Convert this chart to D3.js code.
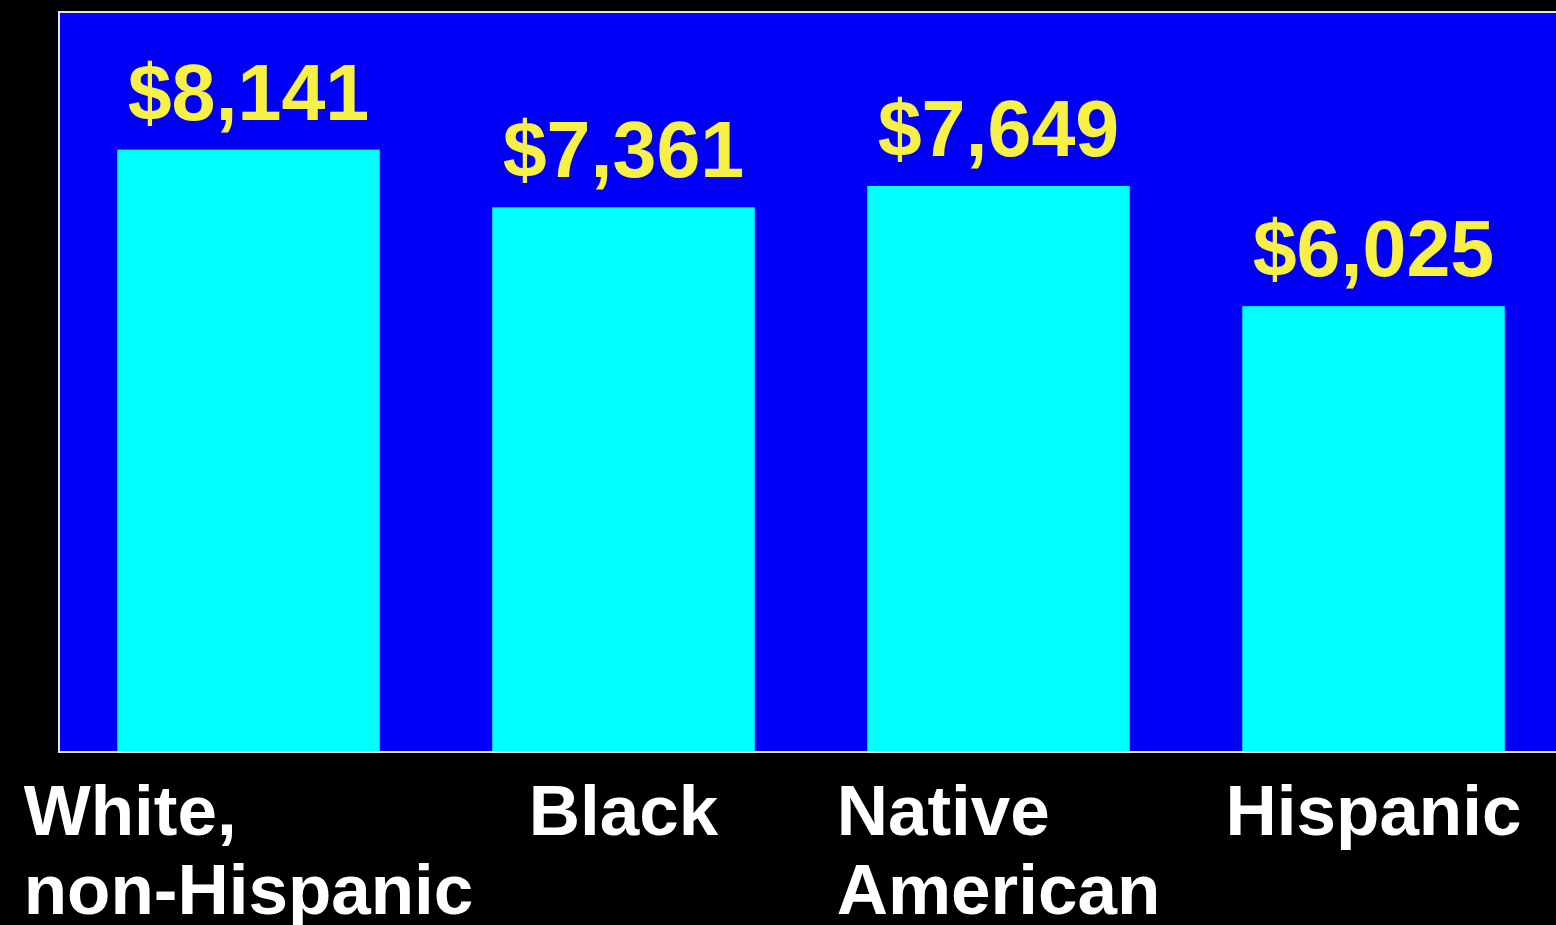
<!DOCTYPE html>
<html>
<head>
<meta charset="utf-8">
<script src="https://cdn.jsdelivr.net/npm/d3@7"></script>
<style>
  html, body { margin: 0; padding: 0; background: #000; }
  svg { display: block; }
  text { font-family: "Liberation Sans", Arial, Helvetica, sans-serif; font-weight: bold; }
</style>
</head>
<body>
<svg id="chart" width="1556" height="925"></svg>
<script>
// Spending per person by group
const categories = ["White, non-Hispanic", "Black", "Native American", "Hispanic"];
const categoryLines = [["White,", "non-Hispanic"], ["Black"], ["Native", "American"], ["Hispanic"]];
const values = [8141, 7361, 7649, 6025];
const valueLabels = ["$8,141", "$7,361", "$7,649", "$6,025"];

const W = 1556, H = 925;
const plot = { left: 59, top: 12, right: 1561, bottom: 752 };

const svg = d3.select("#chart");
svg.append("rect").attr("width", W).attr("height", H).attr("fill", "#000");

const x = d3.scaleBand()
  .domain(categories)
  .range([61, 1561])
  .paddingInner(0.3)
  .paddingOuter(0.15);

const y = d3.scaleLinear()
  .domain([0, 10000])
  .range([plot.bottom, plot.top]);

// plot area
svg.append("rect")
  .attr("x", plot.left)
  .attr("y", plot.top)
  .attr("width", plot.right - plot.left)
  .attr("height", plot.bottom - plot.top)
  .attr("fill", "#0000f8");

// bars
svg.append("g").selectAll("rect")
  .data(categories)
  .join("rect")
  .attr("x", d => x(d))
  .attr("y", (d, i) => y(values[i]))
  .attr("width", x.bandwidth())
  .attr("height", (d, i) => y(0) - y(values[i]))
  .attr("fill", "#00ffff");

// frame on left, top and bottom of the plot
const frame = d3.path();
frame.moveTo(plot.right, plot.top);
frame.lineTo(plot.left, plot.top);
frame.lineTo(plot.left, plot.bottom);
frame.lineTo(plot.right, plot.bottom);
svg.append("path")
  .attr("d", frame.toString())
  .attr("fill", "none")
  .attr("stroke", "#e4e4ee")
  .attr("stroke-width", 2);

// value labels
svg.append("g").selectAll("text")
  .data(categories)
  .join("text")
  .attr("x", d => x(d) + x.bandwidth() / 2)
  .attr("y", (d, i) => y(values[i]) - 30)
  .attr("text-anchor", "middle")
  .attr("font-size", 79)
  .attr("fill", "#f7f045")
  .text((d, i) => valueLabels[i]);

// category labels: block centred under the bar, lines left-aligned
const labelG = svg.append("g");
categories.forEach((c, i) => {
  const t = labelG.append("text")
    .attr("font-size", 71)
    .attr("fill", "#ffffff");
  const spans = categoryLines[i].map((line, j) =>
    t.append("tspan").attr("y", 835 + j * 79).text(line));
  const maxW = d3.max(spans, s => s.node().getComputedTextLength());
  const left = x(c) + x.bandwidth() / 2 - maxW / 2;
  spans.forEach(s => s.attr("x", left));
});
</script>
</body>
</html>
